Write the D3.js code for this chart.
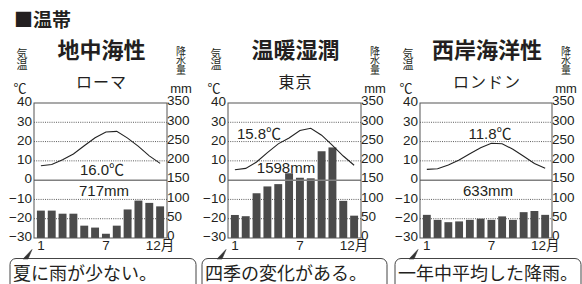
<!DOCTYPE html>
<html lang="ja">
<head>
<meta charset="UTF-8">
<title>温帯 雨温図</title>
<script src="https://d3js.org/d3.v7.min.js"></script>
<style>
    body { margin: 0; background: #fff; }
    text { fill: #231f20; }
    .vert { writing-mode: vertical-rl; text-orientation: upright; }
</style>
</head>
<body>
<div id="chart"></div>
<script>
// データ
const months = [1, 2, 3, 4, 5, 6, 7, 8, 9, 10, 11, 12];
const monthLabels = {1: "1", 7: "7", 12: "12月"};
const tempTicks = [40, 30, 20, 10, 0, -10, -20, -30];
const precTicks = [350, 300, 250, 200, 150, 100, 50, 0];
const gridTemps = [30, 20, 10, -10, -20];

const zoneNames = ["地中海性", "温暖湿潤", "西岸海洋性"];
const cityNames = ["ローマ", "東京", "ロンドン"];

const tempRome = [7.5, 8.1, 10.6, 13.6, 17.8, 22.0, 25.0, 25.3, 21.8, 17.5, 12.6, 8.7];
const precRome = [71, 71, 63, 63, 32, 27, 11, 32, 74, 97, 91, 82];
const tempTokyo = [5.4, 6.1, 9.4, 14.3, 18.8, 21.9, 25.7, 26.9, 23.3, 18.0, 12.5, 7.7];
const precTokyo = [59.7, 56.5, 116.0, 133.7, 139.7, 167.8, 156.2, 154.7, 224.9, 234.8, 96.3, 57.9];
const tempLondon = [5.6, 5.9, 7.8, 10.4, 13.7, 16.8, 19.1, 18.9, 16.0, 12.4, 8.6, 6.2];
const precLondon = [60, 47, 41, 43, 47, 50, 47, 56, 47, 67, 70, 60];

const tempAvgLabels = ["16.0℃", "15.8℃", "11.8℃"];
const precTotalLabels = ["717mm", "1598mm", "633mm"];
const notes = ["夏に雨が少ない。", "四季の変化がある。", "一年中平均した降雨。"];

const temps = [tempRome, tempTokyo, tempLondon];
const precs = [precRome, precTokyo, precLondon];

// レイアウト
const width = 582, height = 284;
const plotLeft = [34, 228, 420];
const plotRight = [167, 361, 552];
const plotTop = 103, plotBottom = 238;
const tempLabelPos = [[102, 175], [259, 139], [490, 139]];
const precLabelPos = [[104, 196], [286, 173], [488, 196]];
const noteBox = [[10, 196], [202, 387], [395, 581]];

const NUM = '"Liberation Sans", Arial, "Noto Sans CJK JP", sans-serif';
const JP = '"Noto Sans CJK JP", sans-serif';

const svg = d3.select("#chart").append("svg")
    .attr("width", width)
    .attr("height", height);

svg.append("text")
    .attr("x", 14).attr("y", 27)
    .attr("font-family", JP).attr("font-size", 19).attr("font-weight", "bold")
    .text("■温帯");

const yT = d3.scaleLinear().domain([-30, 40]).range([plotBottom, plotTop]);
const yP = d3.scaleLinear().domain([0, 350]).range([plotBottom, plotTop]);

zoneNames.forEach((zone, i) => {
    const L = plotLeft[i], R = plotRight[i];
    const cx = (L + R) / 2;
    const g = svg.append("g");

    const x = d3.scaleBand().domain(months).range([L, R]).padding(0.27);
    const xc = m => x(m) + x.bandwidth() / 2;

    // 見出し
    g.append("text")
        .attr("x", cx + 1).attr("y", 58)
        .attr("text-anchor", "middle")
        .attr("font-family", JP).attr("font-size", 22).attr("font-weight", "bold")
        .text(zone);
    g.append("text")
        .attr("x", cx + 1).attr("y", 88)
        .attr("text-anchor", "middle")
        .attr("font-family", JP).attr("font-size", 16)
        .attr("letter-spacing", 1)
        .text(cityNames[i]);

    // 縦書きラベル
    g.append("text")
        .attr("class", "vert")
        .attr("x", L - 12).attr("y", 48)
        .attr("font-family", JP).attr("font-size", 11)
        .attr("letter-spacing", 0.5)
        .text("気温");
    g.append("text")
        .attr("class", "vert")
        .attr("x", R + 14).attr("y", 46)
        .attr("font-family", JP).attr("font-size", 10)
        .attr("letter-spacing", -0.6)
        .text("降水量");
    g.append("text")
        .attr("x", L - 14).attr("y", 93)
        .attr("text-anchor", "middle")
        .attr("font-family", JP).attr("font-size", 13)
        .text("℃");
    g.append("text")
        .attr("x", R + 14).attr("y", 93)
        .attr("text-anchor", "middle")
        .attr("font-family", NUM).attr("font-size", 13)
        .text("mm");

    // 補助線
    g.append("g").selectAll("line")
        .data(gridTemps)
        .join("line")
        .attr("x1", L).attr("x2", R)
        .attr("y1", d => yT(d)).attr("y2", d => yT(d))
        .attr("stroke", "#333").attr("stroke-width", 0.8)
        .attr("stroke-dasharray", "1,1.2");

    // 降水量
    g.append("g").selectAll("rect")
        .data(precs[i])
        .join("rect")
        .attr("x", (d, k) => x(months[k]))
        .attr("y", d => yP(d))
        .attr("width", x.bandwidth())
        .attr("height", d => yP(0) - yP(d))
        .attr("fill", "#4b4b4b");

    // 0℃線
    g.append("line")
        .attr("x1", L).attr("x2", R)
        .attr("y1", yT(0)).attr("y2", yT(0))
        .attr("stroke", "#808080").attr("stroke-width", 1.5);

    // 気温
    g.append("path")
        .datum(temps[i])
        .attr("fill", "none")
        .attr("stroke", "#222")
        .attr("stroke-width", 1.1)
        .attr("d", d3.line().x((d, k) => xc(months[k])).y(d => yT(d)));

    g.append("rect")
        .attr("x", L).attr("y", plotTop)
        .attr("width", R - L).attr("height", plotBottom - plotTop)
        .attr("fill", "none").attr("stroke", "#555").attr("stroke-width", 1);

    // 軸
    const axL = g.append("g")
        .attr("transform", `translate(${L},-1.5)`)
        .call(d3.axisLeft(yT).tickValues(tempTicks).tickSize(0).tickPadding(2));
    const axR = g.append("g")
        .attr("transform", `translate(${R},-2.5)`)
        .call(d3.axisRight(yP).tickValues(precTicks).tickSize(0).tickPadding(0));
    const axB = g.append("g")
        .attr("transform", `translate(0,${plotBottom})`)
        .call(d3.axisBottom(x).tickValues([1, 7, 12]).tickFormat(m => monthLabels[m]).tickSize(0).tickPadding(2));
    [axL, axR, axB].forEach(ax => {
        ax.select(".domain").remove();
        ax.attr("font-family", NUM).attr("font-size", 13.5);
        ax.selectAll("text").attr("fill", "#231f20");
    });

    // 平均・合計
    g.append("text")
        .attr("x", tempLabelPos[i][0]).attr("y", tempLabelPos[i][1])
        .attr("text-anchor", "middle")
        .attr("font-family", NUM).attr("font-size", 15)
        .text(tempAvgLabels[i]);
    g.append("text")
        .attr("x", precLabelPos[i][0]).attr("y", precLabelPos[i][1])
        .attr("text-anchor", "middle")
        .attr("font-family", NUM).attr("font-size", 15)
        .text(precTotalLabels[i]);

    // 吹き出し
    const [bx1, bx2] = noteBox[i];
    g.append("rect")
        .attr("x", bx1).attr("y", 258.5)
        .attr("width", bx2 - bx1).attr("height", 40)
        .attr("rx", 6)
        .attr("fill", "#fff").attr("stroke", "#444").attr("stroke-width", 1);
    g.append("path")
        .attr("d", `M${L - 11},259 L${L - 2},249.5 L${L - 6},259 Z`)
        .attr("fill", "#333").attr("stroke", "#333").attr("stroke-width", 0.6);
    g.append("text")
        .attr("x", bx1 + 3).attr("y", 280)
        .attr("font-family", JP).attr("font-size", 18)
        .text(notes[i]);
});
</script>
</body>
</html>
